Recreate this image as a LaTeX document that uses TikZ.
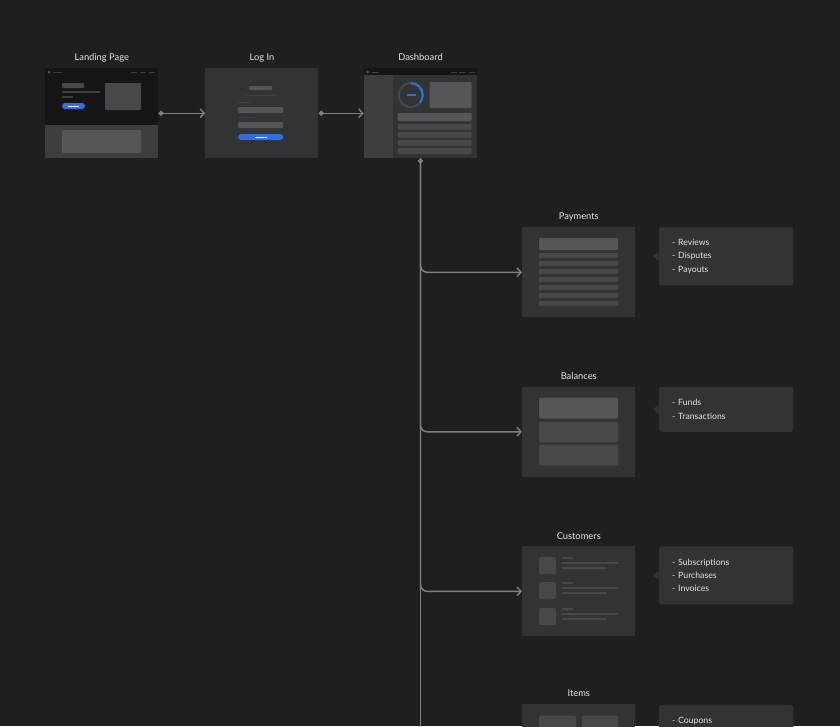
\documentclass[tikz,border=0pt]{standalone}
\usepackage{fontspec}
\setmainfont{Lato}
\usetikzlibrary{positioning, arrows.meta, calc}
\definecolor{wfBack}{HTML}{1E1F21}
\definecolor{wfPanel}{HTML}{323335}
\definecolor{wfDark}{HTML}{141516}
\definecolor{wfSide}{HTML}{3D3E40}
\definecolor{wfBlock}{HTML}{555658}
\definecolor{wfRow}{HTML}{474849}
\definecolor{wfFaint}{HTML}{3E3F41}
\definecolor{wfLine}{HTML}{7E7F81}
\definecolor{wfBlue}{HTML}{2F6FE0}
\definecolor{wfText}{HTML}{E4E4E4}
\tikzset{
    screen/.style={
        rectangle,
        anchor=north west,
        inner sep=0pt,
        minimum width=84.75pt,
        minimum height=67.5pt,
        fill=wfPanel
    },
    screenTitle/.style={
        font=\fontsize{7}{8}\selectfont,
        text=wfText,
        inner sep=2pt,
        text height=5.4pt,
        text depth=1.6pt
    },
    notes/.style={
        rectangle,
        rounded corners=2pt,
        fill=wfPanel,
        inner xsep=10pt,
        inner ysep=0pt,
        text width=81pt,
        align=left,
        text=wfText,
        font=\fontsize{6.5}{10.1}\selectfont
    },
    % Arrows
    link/.style={draw=wfLine, line width=1.1pt, {Circle[length=3.8pt, width=3.8pt]}-{Straight Barb[length=3pt, width=6.5pt]}},
    trunk/.style={draw=wfLine, line width=1.1pt, {Circle[length=3.8pt, width=3.8pt]}-},
    branch/.style={draw=wfLine, line width=1.1pt, rounded corners=5pt, -{Straight Barb[length=3pt, width=6.5pt]}},
    % Wireframe bits
    blk/.style={fill=wfBlock, rounded corners=0.8pt},
    rowblk/.style={fill=wfRow, rounded corners=0.6pt},
    faint/.style={fill=wfFaint}
}

\begin{document}
\begin{tikzpicture}[x=0.75pt, y=-0.75pt]
\useasboundingbox (0,0) rectangle (840,726);
\fill[wfBack] (0,0) rectangle (840,726);

% Screens
\node[screen] (landing) at (45,68) {};
\node[screen, right=35pt of landing] (login) {};
\node[screen, right=33.75pt of login] (dash) {};

\node[screen] (pay) at (522,227) {};
\node[screen, below=51.75pt of pay] (bal) {};
\node[screen, below=51.75pt of bal] (cust) {};
\node[screen, below=50.25pt of cust] (items) {};

\node[screenTitle, above=1.5pt of landing] {Landing Page};
\node[screenTitle, above=1.5pt of login] {Log In};
\node[screenTitle, above=1.5pt of dash] {Dashboard};
\node[screenTitle, above=1.5pt of pay] {Payments};
\node[screenTitle, above=1.5pt of bal] {Balances};
\node[screenTitle, above=1.5pt of cust] {Customers};
\node[screenTitle, above=1.5pt of items] {Items};

% Landing page
\begin{scope}[shift={(landing.north west)}]
\fill[wfDark] (0,0) rectangle (113,57);
\fill[wfSide] (0,57) rectangle (113,90);
\fill[blk] (17,62) rectangle (96,85);
\fill[wfBlock] (4,4) circle (1.5);
\fill[faint] (8,3.5) rectangle (17,4.5);
\foreach \xa/\xb in {86/92, 95/101, 104/110}
    \fill[faint] (\xa,3.5) rectangle (\xb,4.5);
\fill[rowblk] (17,15) rectangle (39,20);
\fill[faint] (17,23) rectangle (55,25);
\fill[faint] (17,28) rectangle (28,30);
\fill[wfBlue, rounded corners=2.2pt] (17,35) rectangle (40,41);
\fill[white] (23,37.6) rectangle (34,38.6);
\fill[rowblk] (60,15) rectangle (96,42);
\end{scope}

% Log in
\begin{scope}[shift={(login.north west)}]
\fill[blk] (44,18) rectangle (67,22);
\fill[faint] (41,26.5) rectangle (70,27.5);
\fill[faint] (33,33.5) rectangle (45,35);
\fill[blk] (33,39) rectangle (78,45);
\fill[faint] (33,48.5) rectangle (50,50);
\fill[blk] (33,54) rectangle (78,60);
\fill[wfBlue, rounded corners=2.2pt] (33,66) rectangle (78,72);
\fill[white] (50,68.6) rectangle (62,69.6);
\end{scope}

% Dashboard
\begin{scope}[shift={(dash.north west)}]
\fill[wfDark] (0,0) rectangle (113,7);
\fill[wfSide] (0,7) rectangle (29,90);
\fill[wfBlock] (4,4) circle (1.5);
\fill[faint] (8,3.5) rectangle (15,4.5);
\foreach \xa/\xb in {87/93, 95/102, 105/111}
    \fill[faint] (\xa,3.5) rectangle (\xb,4.5);
\draw[wfRow, line width=1.6pt] (47,27) circle (12);
\draw[wfBlue, line width=1.6pt] ($(47,27)+(0,-12)$) arc[start angle=-90, end angle=40, radius=12];
\draw[wfBlue, line width=1.6pt] (43,27) -- (52,27);
\fill[blk] (66,14) rectangle (108,40);
\fill[blk] (34,45) rectangle (108,53);
\foreach \ya in {56, 64, 72, 80}
    \fill[rowblk] (34,\ya) rectangle (108,\ya+6);
\end{scope}

% Payments
\begin{scope}[shift={(pay.north west)}]
\fill[blk] (17,11) rectangle (96,23);
\foreach \k in {0,...,6}
    \fill[rowblk] (17,26+8*\k) rectangle (96,31+8*\k);
\end{scope}

% Balances
\begin{scope}[shift={(bal.north west)}]
\fill[blk, rounded corners=1.5pt] (17,11) rectangle (96,32);
\fill[rowblk, rounded corners=1.5pt] (17,35) rectangle (96,56);
\fill[rowblk, rounded corners=1.5pt] (17,58) rectangle (96,79);
\end{scope}

% Customers
\begin{scope}[shift={(cust.north west)}]
\foreach \ya in {11, 36, 62} {
    \fill[rowblk, rounded corners=1.5pt] (17,\ya) rectangle (34,\ya+17);
    \fill[wfRow] (40,\ya) rectangle (51,\ya+1.6);
    \fill[wfRow] (40,\ya+5) rectangle (96,\ya+6.6);
    \fill[wfRow] (40,\ya+10) rectangle (85,\ya+11.6);
}
\end{scope}

% Items
\begin{scope}[shift={(items.north west)}]
\fill[rowblk, rounded corners=1.5pt] (17,12) rectangle (54,40);
\fill[rowblk, rounded corners=1.5pt] (60,12) rectangle (96,40);
\end{scope}

% Notes
\node[notes, minimum height=43.5pt, right=17.25pt of pay.north east, anchor=north west] (payNotes) {- Reviews\\- Disputes\\- Payouts};
\node[notes, minimum height=33.75pt, right=17.25pt of bal.north east, anchor=north west] (balNotes) {- Funds\\- Transactions};
\node[notes, minimum height=43.5pt, right=17.25pt of cust.north east, anchor=north west] (custNotes) {- Subscriptions\\- Purchases\\- Invoices};
\node[notes, minimum height=43.5pt, anchor=north west] (itemNotes) at ($(items.north east)+(23,1)$) {- Coupons\\~\\~};
\foreach \n in {payNotes, balNotes, custNotes}
    \fill[wfPanel] ($(\n.west)+(0,-4.5)$) -- ($(\n.west)+(-5.5,0)$) -- ($(\n.west)+(0,4.5)$) -- cycle;

% Connectors
\coordinate (trunkEnd) at ($(dash.south)+(0,600)$);
\draw[link] (landing.east) -- (login.west);
\draw[link] (login.east) -- (dash.west);
\draw[trunk] (dash.south) -- (trunkEnd);
\draw[branch] (dash.south) |- (pay.west);
\draw[branch] (dash.south) |- (bal.west);
\draw[branch] (dash.south) |- (cust.west);
\end{tikzpicture}
\end{document}
